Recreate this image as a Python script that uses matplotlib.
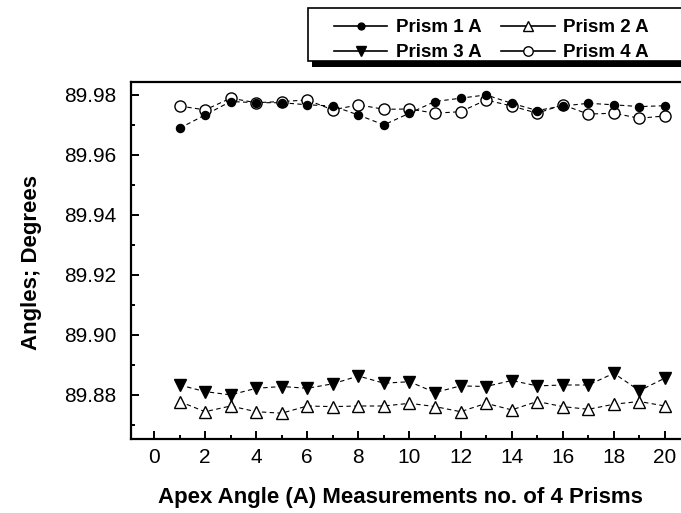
import numpy as np
import matplotlib
matplotlib.use('Agg')
import matplotlib.pyplot as plt
from matplotlib.lines import Line2D
from matplotlib.patches import Rectangle

plt.rcParams['font.family'] = ['Liberation Sans', 'DejaVu Sans']

# measurement number (x) and apex angles of the 4 prisms
measurement_no = np.arange(1, 21)
prism1 = [89.9689, 89.9733, 89.9778, 89.9774, 89.9774, 89.9767, 89.9763, 89.9733, 89.9700, 89.9739,
          89.9778, 89.9789, 89.9800, 89.9772, 89.9748, 89.9763, 89.9772, 89.9767, 89.9761, 89.9764]
prism2 = [89.8778, 89.8744, 89.8763, 89.8744, 89.8739, 89.8763, 89.8761, 89.8763, 89.8763, 89.8772,
          89.8761, 89.8744, 89.8772, 89.8750, 89.8778, 89.8761, 89.8752, 89.8769, 89.8778, 89.8763]
prism3 = [89.8833, 89.8811, 89.8800, 89.8822, 89.8828, 89.8822, 89.8837, 89.8863, 89.8839, 89.8844,
          89.8808, 89.8830, 89.8828, 89.8848, 89.8830, 89.8833, 89.8833, 89.8872, 89.8814, 89.8856]
prism4 = [89.9763, 89.9750, 89.9789, 89.9774, 89.9778, 89.9783, 89.9750, 89.9767, 89.9752, 89.9753,
          89.9739, 89.9744, 89.9783, 89.9763, 89.9739, 89.9767, 89.9736, 89.9739, 89.9722, 89.9730]
labels = ['Prism 1 A', 'Prism 2 A', 'Prism 3 A', 'Prism 4 A']

W, H = 681, 513
fig = plt.figure(figsize=(W / 100, H / 100), dpi=100)
ax = fig.add_axes([131 / W, 1 - 439 / H, (690.5 - 131) / W, (439 - 81.7) / H])

# series: values, marker, filled?, size
series = [
    (prism1, 'o', True, 5.8),
    (prism2, '^', False, 8.5),
    (prism3, 'v', True, 8.5),
    (prism4, 'o', False, 8.0),
]
for vals, mk, filled, ms in series:
    ax.plot(measurement_no, vals, color='black', lw=0.8, ls=(0, (4, 3)), zorder=2)
for vals, mk, filled, ms in series:
    ax.plot(measurement_no, vals, ls='none', marker=mk, ms=ms,
            mfc='black' if filled else 'white', mec='black', mew=1.0,
            zorder=4 if filled else 3)

ax.set_xlim(-0.9, 21.0)
ax.set_ylim(89.8653, 89.9844)
ax.set_xticks(np.arange(0, 21, 2))
ax.set_xticks(np.arange(0, 21, 1), minor=True)
ax.set_yticks(np.arange(89.88, 89.981, 0.02))
ax.set_yticks(np.arange(89.87, 89.981, 0.01), minor=True)
ax.set_yticklabels(['%.2f' % v for v in np.arange(89.88, 89.981, 0.02)])

for s in ax.spines.values():
    s.set_linewidth(1.6)
ax.tick_params(which='both', direction='in', top=False, right=False, width=1.4)
ax.tick_params(which='major', length=6, labelsize=15)
ax.tick_params(axis='y', which='major', pad=10.5)
ax.tick_params(axis='x', which='major', pad=6.5)
ax.tick_params(which='minor', length=3)

ax.set_xlabel('Apex Angle (A) Measurements no. of 4 Prisms', fontsize=16, fontweight='bold')
ax.set_ylabel('Angles; Degrees', fontsize=16, fontweight='bold')
ax.xaxis.set_label_coords((400 - 131) / 559.5, (439 - 487) / 357.3)
ax.yaxis.set_label_coords((42 - 131) / 559.5, (439 - 263) / 357.3)

# legend box with a solid black shadow
fig.patches.append(Rectangle((312 / W, 1 - 67 / H), 400 / W, 53 / H, transform=fig.transFigure,
                             facecolor='black', edgecolor='none', zorder=5))
fig.patches.append(Rectangle((308 / W, 1 - 61 / H), 400 / W, 53 / H, transform=fig.transFigure,
                             facecolor='white', edgecolor='black', lw=1.2, zorder=6))

handles = []
for vals, mk, filled, ms in series:
    handles.append(Line2D([], [], color='black', lw=1.2, marker=mk, ms=ms * 0.85,
                          mfc='black' if filled else 'white', mec='black', mew=1.0))
# legend fills column-wise, so order it to read row-wise: 1 2 / 3 4
order = [0, 2, 1, 3]
leg = fig.legend([handles[i] for i in order], [labels[i] for i in order], ncol=2, loc='upper left',
                 bbox_to_anchor=(334 / W, 1 - 19 / H), frameon=False, borderpad=0, borderaxespad=0,
                 handlelength=2.85, handletextpad=0.45, columnspacing=1.05, labelspacing=0.42,
                 prop={'size': 13.5, 'weight': 'bold'})
leg.set_zorder(7)

fig.savefig('out.png', dpi=100)
